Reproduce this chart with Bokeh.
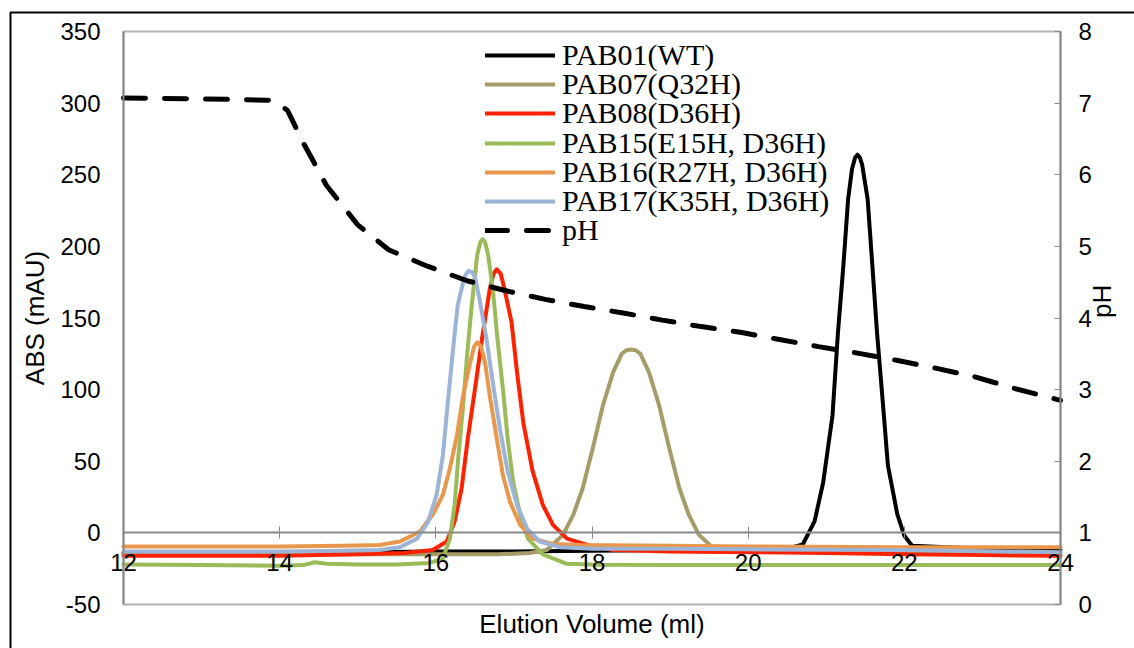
import math
from bokeh.plotting import figure
from bokeh.models import (Range1d, LinearAxis, FixedTicker, Legend, LegendItem,
                          BoxAnnotation)
from bokeh.embed import file_html
from bokeh.resources import INLINE

# ---------------- data ----------------
vol_ticks = [12, 14, 16, 18, 20, 22, 24]
abs_ticks = [-50, 0, 50, 100, 150, 200, 250, 300, 350]
ph_ticks = [0, 1, 2, 3, 4, 5, 6, 7, 8]

series_names = ["PAB01(WT)", "PAB07(Q32H)", "PAB08(D36H)",
                "PAB15(E15H, D36H)", "PAB16(R27H, D36H)", "PAB17(K35H, D36H)"]
series_colors = ["#000000", "#A69C68", "#FF2200", "#9BBB59", "#E9974C", "#9BB4D8"]

vol_wt = [12, 14, 16, 17, 18, 19, 20, 20.5, 20.7, 20.85, 20.96, 21.08, 21.15, 21.22,
          21.28, 21.33, 21.37, 21.40, 21.43, 21.46, 21.53, 21.59, 21.65, 21.72, 21.79,
          21.91, 22.0, 22.1, 23, 24]
abs_wt = [-14, -14, -13, -13, -12.5, -12, -11.5, -11, -8, 8, 35, 82, 140, 187,
          233, 254, 262, 264, 262, 257, 233, 187, 140, 94, 47,
          13, -2, -9, -11, -12]

vol_q32h = [12, 14, 16, 16.8, 17.2, 17.42, 17.63, 17.76, 17.88, 18.01, 18.14, 18.27,
            18.38, 18.44, 18.50, 18.56, 18.62, 18.73, 18.86, 18.99, 19.12, 19.24,
            19.37, 19.58, 20, 22, 24]
abs_q32h = [-15, -15, -15, -15, -14, -12, -1.4, 12.6, 31, 59, 89, 112,
            125, 127.5, 128, 127.5, 125, 112, 89, 59, 31, 12.6,
            -1.4, -12, -13, -13.5, -14]

vol_d36h = [12, 14, 15, 15.6, 15.96, 16.14, 16.24, 16.33, 16.41, 16.50, 16.59, 16.69,
            16.74, 16.78, 16.83, 16.88, 16.97, 17.04, 17.12, 17.24, 17.37, 17.50,
            17.68, 17.94, 18.27, 19, 20, 21, 22, 23, 24]
abs_d36h = [-16, -16, -15, -14, -12, -6, 7.7, 31, 66, 100, 135, 170,
            181, 184, 181, 170, 147, 112, 77, 43, 19.5, 5.6,
            -4, -8.4, -12, -13, -13.5, -14, -15, -15.5, -16]

vol_e15h = [12, 13, 14, 14.3, 14.45, 14.6, 15, 15.5, 15.92, 16.09, 16.18, 16.24,
            16.29, 16.35, 16.40, 16.46, 16.53, 16.57, 16.60, 16.63, 16.67, 16.73,
            16.79, 16.86, 16.92, 16.99, 17.08, 17.18, 17.37, 17.68, 18.06, 19, 20,
            22, 24]
abs_e15h = [-22, -22.5, -23, -22.5, -20.5, -21.5, -22, -22, -21, -18, -4, 19.5,
            54, 89, 124, 159, 194, 203, 205, 203, 194, 170,
            135, 100, 66, 35.6, 12.6, -4, -15, -21.6, -22.3, -22.5, -22.5,
            -22.5, -22.5]

vol_r27h = [12, 13, 14, 14.8, 15.28, 15.54, 15.79, 15.96, 16.09, 16.18, 16.27, 16.35,
            16.44, 16.49, 16.53, 16.58, 16.63, 16.69, 16.78, 16.86, 16.95, 17.08,
            17.24, 17.50, 17.85, 19, 20, 22, 24]
abs_r27h = [-9.5, -9.5, -9.5, -9, -8.5, -6, 0.7, 12.6, 26.5, 45, 68, 96,
            119, 130, 133, 130, 119, 96, 66, 40, 21.6, 5.6,
            -4, -7.7, -8.4, -9, -9.5, -10, -10]

vol_k35h = [12, 13, 14, 14.8, 15.28, 15.54, 15.76, 15.90, 16.01, 16.09, 16.15, 16.22,
            16.28, 16.35, 16.38, 16.42, 16.46, 16.50, 16.56, 16.65, 16.73, 16.82,
            16.92, 17.04, 17.17, 17.33, 17.59, 18.01, 19, 20, 22, 24]
abs_k35h = [-13, -13, -13, -12.5, -12, -10, -4, 7.7, 26.5, 54, 89, 128,
            159, 175, 180, 183, 182, 179, 163, 135, 105, 73,
            43, 19.5, 2.8, -6, -10, -11, -11, -11.5, -12, -13.5]

vol_ph = [12, 13, 13.9, 14.1, 14.3, 14.6, 15.0, 15.4, 15.9, 16.4, 16.9, 17.4, 17.9,
          18.4, 18.9, 19.4, 19.9, 20.4, 20.9, 21.4, 21.9, 22.4, 22.9, 23.4, 24]
ph_vals = [7.07, 7.06, 7.04, 6.9, 6.45, 5.85, 5.3, 4.95, 4.72, 4.52, 4.38, 4.26, 4.16,
           4.07, 3.97, 3.88, 3.8, 3.7, 3.6, 3.51, 3.41, 3.3, 3.18, 3.02, 2.85]

series_x = [vol_wt, vol_q32h, vol_d36h, vol_e15h, vol_r27h, vol_k35h]
series_y = [abs_wt, abs_q32h, abs_d36h, abs_e15h, abs_r27h, abs_k35h]

# ---------------- layout (pixels) ----------------
W, H = 1134, 648
FL, FR, FT, FB = 123, 1060, 31, 604          # plot area edges in canvas pixels
X_MIN, X_MAX = vol_ticks[0], vol_ticks[-1]
Y_MIN, Y_MAX = abs_ticks[0], abs_ticks[-1]
P_MIN, P_MAX = ph_ticks[0], ph_ticks[-1]

ppx = (FR - FL) / (X_MAX - X_MIN)
ppy = (FB - FT) / (Y_MAX - Y_MIN)
ppp = (FB - FT) / (P_MAX - P_MIN)
x_range = Range1d(X_MIN - FL / ppx, X_MAX + (W - FR) / ppx)
y_range = Range1d(Y_MIN - (H - FB) / ppy, Y_MAX + FT / ppy)
ph_range = Range1d(P_MIN - (H - FB) / ppp, P_MAX + FT / ppp)

def px_to_x(px):
    return x_range.start + px / ppx

def px_to_y(py):
    return y_range.end - py / ppy

SANS = "Liberation Sans"
SERIF = "Liberation Serif"

p = figure(width=W, height=H, x_range=x_range, y_range=y_range,
           x_axis_type=None, y_axis_type=None, min_border=0,
           min_border_left=0, min_border_right=0, min_border_top=0, min_border_bottom=0,
           output_backend="svg", toolbar_location=None,
           background_fill_color="white", border_fill_color="white",
           outline_line_color=None)
p.extra_y_ranges = {"ph": ph_range}

# plot area border
p.add_layout(BoxAnnotation(left=X_MIN, right=X_MAX, bottom=Y_MIN, top=Y_MAX,
                           fill_color=None, line_color="black", line_width=2,
                           level="underlay"))
# outer picture border: left edge at x = 10 px, top edge at y = 12 px
p.line([px_to_x(10), px_to_x(10), px_to_x(W + 20)],
       [px_to_y(H + 20), px_to_y(12), px_to_y(12)],
       line_color="black", line_width=2, level="underlay")

# left axis
yax = LinearAxis(ticker=FixedTicker(ticks=abs_ticks), axis_label="ABS (mAU)",
                 fixed_location=X_MIN, bounds=(Y_MIN, Y_MAX))
yax.major_label_overrides = {-50: "-50"}
yax.axis_line_color = "#8A8A8A"
yax.axis_line_width = 2
yax.major_tick_in = 0
yax.major_tick_out = 0
yax.major_label_standoff = 23
yax.major_label_text_font = SANS
yax.major_label_text_font_size = "24px"
yax.major_label_text_color = "black"
yax.axis_label_text_font = SANS
yax.axis_label_text_font_size = "26px"
yax.axis_label_text_font_style = "normal"
yax.axis_label_text_color = "black"
yax.axis_label_standoff = 7
p.add_layout(yax, "left")

# right axis (pH)
rax = LinearAxis(y_range_name="ph", ticker=FixedTicker(ticks=ph_ticks), axis_label="pH",
                 fixed_location=X_MAX, bounds=(P_MIN, P_MAX))
rax.axis_line_color = "#8A8A8A"
rax.axis_line_width = 2
rax.major_tick_in = 6
rax.major_tick_out = 0
rax.major_tick_line_color = "#8A8A8A"
rax.major_tick_line_width = 1
rax.major_label_standoff = 18
rax.major_label_text_font = SANS
rax.major_label_text_font_size = "24px"
rax.major_label_text_color = "black"
rax.axis_label_text_font = SANS
rax.axis_label_text_font_size = "26px"
rax.axis_label_text_font_style = "normal"
rax.axis_label_text_color = "black"
rax.axis_label_standoff = 7
rax.axis_label_orientation = math.pi / 2
p.add_layout(rax, "right")

# x axis crossing at ABS = 0
xax = LinearAxis(ticker=FixedTicker(ticks=vol_ticks), fixed_location=0,
                 bounds=(X_MIN, X_MAX))
xax.axis_line_color = "#8A8A8A"
xax.axis_line_width = 2
xax.major_tick_in = 6
xax.major_tick_out = 6
xax.major_tick_line_color = "#8A8A8A"
xax.major_tick_line_width = 1
xax.major_label_standoff = 15
xax.major_label_text_font = SANS
xax.major_label_text_font_size = "24px"
xax.major_label_text_color = "black"
p.add_layout(xax, "below")

# x axis title under the plot area
xtitle = LinearAxis(ticker=FixedTicker(ticks=[]), axis_label="Elution Volume (ml)",
                    fixed_location=Y_MIN, bounds=(X_MIN, X_MAX))
xtitle.axis_line_color = None
xtitle.major_tick_line_color = None
xtitle.minor_tick_line_color = None
xtitle.major_tick_in = 0
xtitle.major_tick_out = 0
xtitle.major_label_standoff = 0
xtitle.axis_label_standoff = 4
xtitle.axis_label_text_font = SANS
xtitle.axis_label_text_font_size = "26px"
xtitle.axis_label_text_font_style = "normal"
xtitle.axis_label_text_color = "black"
p.add_layout(xtitle, "below")

# curves
renderers = []
for color, xs, ys in zip(series_colors, series_x, series_y):
    r = p.line(xs, ys, line_color=color, line_width=4, line_join="round", line_cap="round")
    renderers.append(r)

r_ph = p.line(vol_ph, ph_vals, y_range_name="ph", line_color="black", line_width=5,
              line_dash="22 19", line_cap="round")
renderers.append(r_ph)
labels = series_names + ["pH"]

# legend: one row per entry, rows 29.2 px apart (tight Excel spacing)
ROW_H = 40
LEG_X = 485
for i, (lab, r) in enumerate(zip(labels, renderers)):
    center = 55 + i * 29.2
    lg = Legend(items=[LegendItem(label=lab, renderers=[r])],
                location=(LEG_X, H - center - ROW_H / 2))
    lg.border_line_color = None
    lg.background_fill_alpha = 0
    lg.label_text_font = SERIF
    lg.label_text_font_size = "30px"
    lg.label_text_color = "black"
    lg.glyph_width = 70
    lg.glyph_height = ROW_H
    lg.label_height = ROW_H
    lg.label_standoff = 7
    lg.spacing = 0
    lg.padding = 0
    lg.margin = 0
    p.add_layout(lg, "center")

open("out.html", "w").write(file_html(p, INLINE))
